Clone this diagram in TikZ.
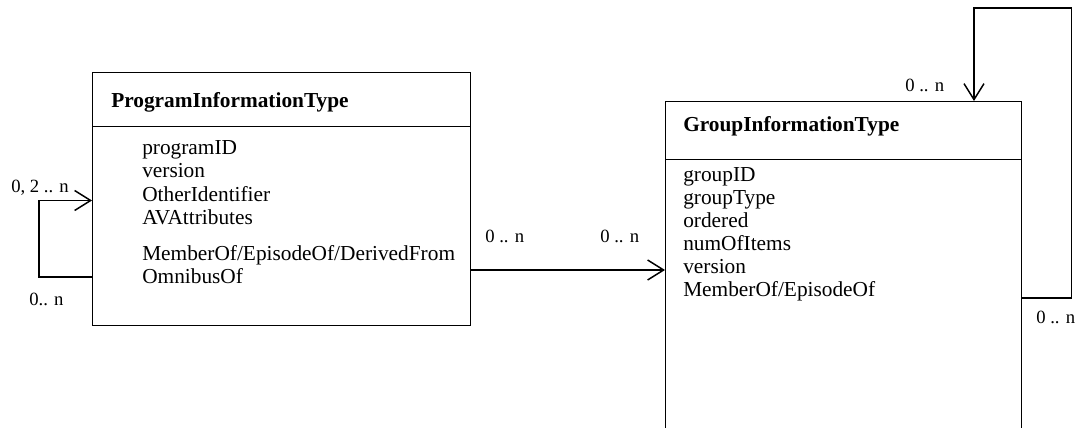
\documentclass[tikz,border=0pt]{standalone}
\usepackage{fontspec}
\setmainfont{Liberation Serif}
\usetikzlibrary{arrows.meta}

\tikzset{
  classbox/.style={draw, line width=1.1pt, rectangle, inner sep=0pt, anchor=north west},
  ctitle/.style={font=\fontsize{16}{19}\selectfont\bfseries, anchor=base west, inner sep=0pt},
  attr/.style={font=\fontsize{16}{19}\selectfont, anchor=base west, inner sep=0pt},
  mult/.style={font=\fontsize{14}{17}\selectfont, anchor=base west, inner sep=0pt},
  assoc/.style={line width=1.1pt, line join=miter,
    -{Straight Barb[length=12pt,width=15pt,line width=1.1pt]}},
}

\begin{document}
\begin{tikzpicture}[x=0.75pt, y=-0.75pt]
  \useasboundingbox (0,0) rectangle (1076,428);
  \clip (0,0) rectangle (1076,428);

  % class boxes
  \node[classbox, minimum width=283.5pt, minimum height=189.75pt] (prog) at (92,72) {};
  \node[classbox, minimum width=267pt, minimum height=276.75pt] (group) at (665,101) {};

  % compartment separators
  \draw[line width=1.1pt] (prog.west |- 0,126.5) -- (prog.east |- 0,126.5);
  \draw[line width=1.1pt] (group.west |- 0,159.5) -- (group.east |- 0,159.5);

  % ProgramInformationType
  \node[ctitle] (ptitle) at (111,107.5) {ProgramInformationType};
  \node[attr] (p1) at (142,155) {programID};
  \node[attr] (p2) at (142,177.5) {version};
  \node[attr] (p3) at (142,201) {OtherIdentifier};
  \node[attr] (p4) at (142,224.5) {AVAttributes};
  \node[attr] (p5) at (142,260.5) {MemberOf/EpisodeOf/DerivedFrom};
  \node[attr] (p6) at (142,283.5) {OmnibusOf};

  % GroupInformationType
  \node[ctitle] (gtitle) at (683,132) {GroupInformationType};
  \node[attr] (g1) at (683,181.5) {groupID};
  \node[attr] (g2) at (683,204.5) {groupType};
  \node[attr] (g3) at (683,227) {ordered};
  \node[attr] (g4) at (683,250) {numOfItems};
  \node[attr] (g5) at (683,273) {version};
  \node[attr] (g6) at (683,296.5) {MemberOf/EpisodeOf};

  % self association of ProgramInformationType
  \draw[assoc] (prog.west |- 0,277) -- ++(-53,0) |- (prog.west |- 0,200.5);
  \node[mult] (m1) at (11,193) {0, 2 .. n};
  \node[mult] (m2) at (29,305) {0.. n};

  % ProgramInformationType to GroupInformationType
  \draw[assoc] (prog.east |- 0,270) -- (group.west |- 0,270);
  \node[mult] (m3) at (485,243) {0 .. n};
  \node[mult] (m4) at (600,243) {0 .. n};

  % self association of GroupInformationType
  \draw[assoc] (group.east |- 0,298) -- ++(49,0) -- ++(0,-290) -| (group.north -| 974,0);
  \node[mult] (m5) at (905,92) {0 .. n};
  \node[mult] (m6) at (1036,323) {0 .. n};
\end{tikzpicture}
\end{document}
